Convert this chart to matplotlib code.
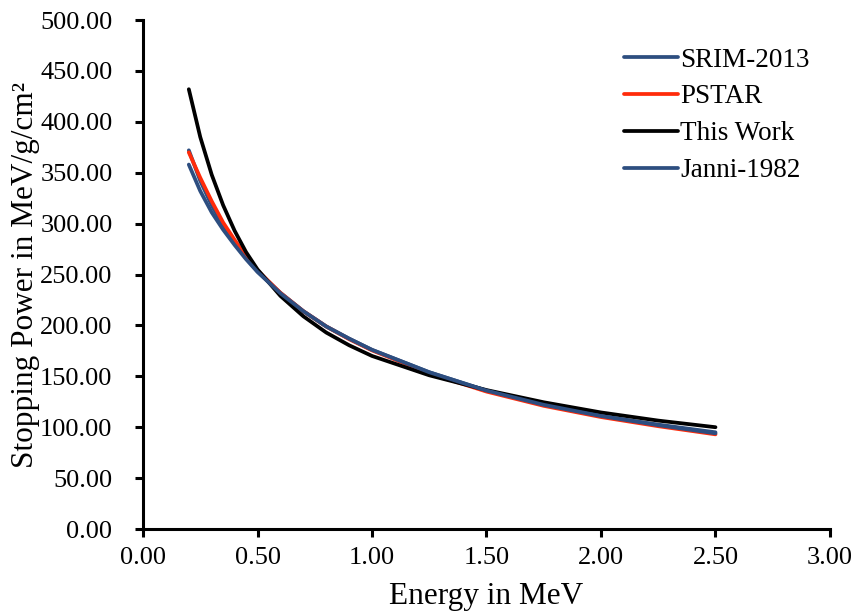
import matplotlib
matplotlib.use("Agg")
import matplotlib.pyplot as plt
import numpy as np

energy = [0.2, 0.25, 0.3, 0.35, 0.4, 0.45, 0.5, 0.6, 0.7, 0.8, 0.9, 1.0,
          1.25, 1.5, 1.75, 2.0, 2.25, 2.5]

srim = [372, 342, 318, 298, 281, 266, 253, 232, 214, 199, 187, 176,
        154, 136, 122, 111, 102.5, 95]
pstar = [370, 345, 322, 301, 284, 268, 254, 232, 214, 199, 186.5, 175.5,
         153, 135, 121, 110, 101, 93]
this_work = [432, 385, 348, 318, 293, 272, 255, 229, 209, 193, 180.5, 170,
             151, 136.5, 124.5, 114.5, 106.5, 100]
janni = [358, 332, 311, 294, 279, 265, 252.5, 231.5, 214, 199, 187, 176,
         154, 136, 122, 111, 102, 94]

blue = '#2D4E80'
red = '#FF2B0A'

plt.rcParams['font.family'] = ['Liberation Serif', 'DejaVu Serif']

fig = plt.figure(figsize=(8.59, 6.12), dpi=100)
ax = fig.add_axes([0.1665, 0.1356, 0.7997, 0.8317])

kw = dict(lw=2.7, solid_joinstyle='round', solid_capstyle='round')
ax.plot(energy, srim, color=blue, label='SRIM-2013', **kw)
ax.plot(energy, pstar, color=red, label='PSTAR', **kw)
ax.plot(energy, this_work, color='black', label='This Work', **kw)
ax.plot(energy, janni, color=blue, label='Janni-1982', **kw)

ax.set_xlim(0, 3)
ax.set_ylim(0, 500)
ax.set_xticks(np.arange(0, 3.01, 0.5))
ax.set_yticks(np.arange(0, 501, 50))
ax.xaxis.set_major_formatter(matplotlib.ticker.FormatStrFormatter('%.2f'))
ax.yaxis.set_major_formatter(matplotlib.ticker.FormatStrFormatter('%.2f'))

for side in ['top', 'right']:
    ax.spines[side].set_visible(False)
for side in ['left', 'bottom']:
    ax.spines[side].set_linewidth(2.2)
ax.tick_params(direction='out', length=6, width=2.2, labelsize=19)
ax.tick_params(axis='y', pad=16)
ax.tick_params(axis='x', pad=7)

ax.set_xlabel('Energy in MeV', fontsize=22.5, labelpad=9)
ax.set_ylabel('Stopping Power in MeV/g/cm²', fontsize=22.5, labelpad=0)

ax.legend(loc='upper left', bbox_to_anchor=(610 / 859, 1 - 34 / 612),
          bbox_transform=fig.transFigure, frameon=False, borderpad=0,
          fontsize=19.5, handlelength=2.0, handletextpad=0.1, labelspacing=0.44)

fig.savefig('out.png', dpi=100)
